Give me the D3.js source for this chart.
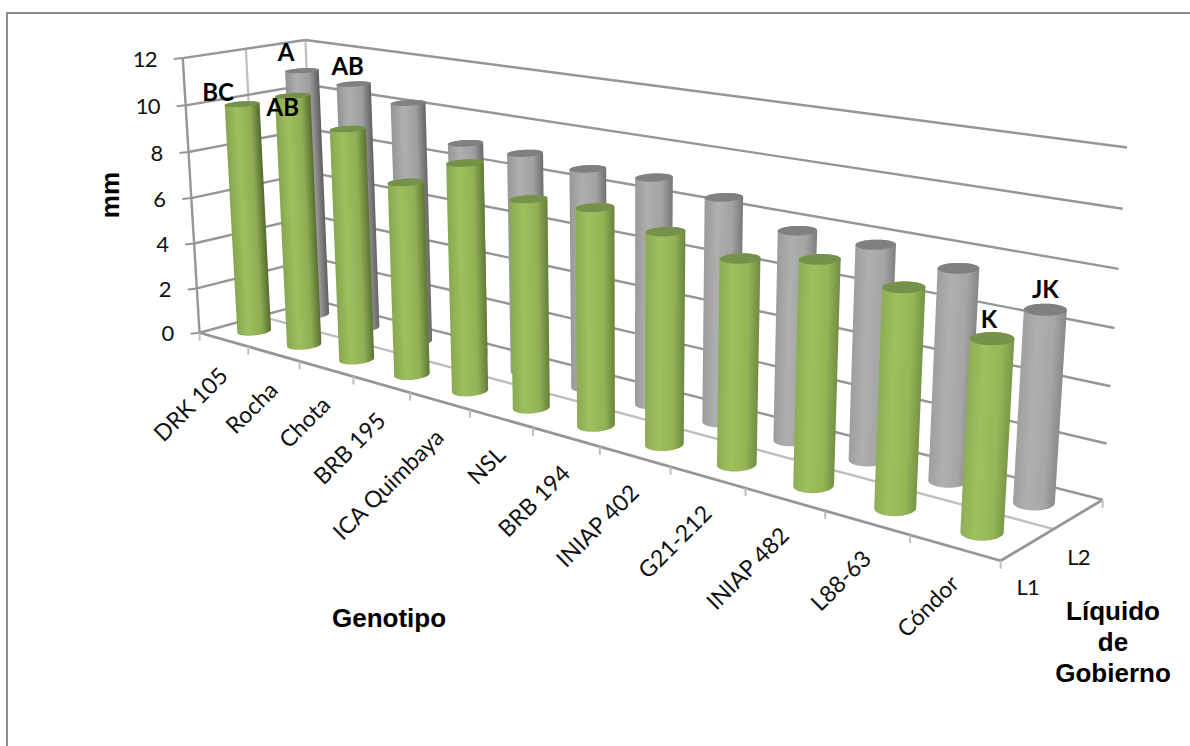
<!DOCTYPE html>
<html lang="es">
<head>
<meta charset="utf-8">
<title>Genotipo y líquido de gobierno</title>
<script src="https://cdn.jsdelivr.net/npm/d3@7"></script>
<style>
  html, body { margin: 0; padding: 0; background: #fff; }
  svg { display: block; }
  .tick-label { font-family: Lato, sans-serif; font-size: 22px; letter-spacing: -0.8px; fill: #111; }
  .cat-label { font-family: Lato, sans-serif; font-size: 23px; fill: #111; }
  .bar-letter { font-family: Lato, sans-serif; font-size: 24px; font-weight: 700; fill: #000; text-anchor: middle; }
  .axis-title { font-family: "Liberation Sans", Arial, sans-serif; font-size: 26px; font-weight: 700; fill: #000; text-anchor: middle; }
</style>
</head>
<body>
<svg id="chart" width="1190" height="746"></svg>
<script>
// Chart content
const genotipos = ["DRK 105", "Rocha", "Chota", "BRB 195", "ICA Quimbaya", "NSL", "BRB 194", "INIAP 402", "G21-212", "INIAP 482", "L88-63", "Cóndor"];
const liquidos = ["L1", "L2"];
const valoresL1 = [10, 10.7, 9.7, 7.95, 9.15, 8.2, 8.35, 7.95, 7.5, 8, 7.6, 6.5];
const valoresL2 = [11, 10.75, 10.3, 9, 9, 8.8, 8.9, 8.6, 7.85, 7.85, 7.55, 6.7];
const yTicks = [0, 2, 4, 6, 8, 10, 12];
const letrasL1 = ["BC", "AB", "", "", "", "", "", "", "", "", "", "K"];
const letrasL2 = ["A", "AB", "", "", "", "", "", "", "", "", "", "JK"];

// Data space to unit cube: x along genotypes, y up, z into the page
const xBand = d3.scaleBand().domain(genotipos).range([0, 1]);
const zBand = d3.scaleBand().domain(liquidos).range([0, 1]);
const yScale = d3.scaleLinear().domain([0, 12]).range([0, 1]);

// Screen positions of known points of the box, used to calibrate the camera
const frameAnchors = [
  [0, 0, 0, 200, 332], [0, 1, 0, 182, 58], [1, 0, 0, 1000, 558],
  [1, 0, 1, 1102, 499], [1, 1, 1, 1127, 148], [0, 1, 1, 305, 41], [0, 0, 1, 317, 300],
  ...[248, 299, 353, 410, 470, 533, 600, 671, 746, 825, 910].map((u, i) =>
    [(i + 1) / 12, 0, 0, u, [347, 362, 378, 393, 410, 428, 447, 467, 488, 511, 537][i]]),
  ...[[105, 186], [152, 189], [198, 192], [243, 194], [287, 197]].map(([v, u], i) => [0, (10 - 2 * i) / 12, 0, u, v]),
  ...[[208, 1123], [268, 1118], [328, 1115], [387, 1111], [444, 1107]].map(([v, u], i) => [1, (10 - 2 * i) / 12, 1, u, v])
];

// Least-squares fit of a 3x4 projective camera
function fitCamera(points) {
  const n = 11, A = d3.range(n).map(() => new Array(n + 1).fill(0));
  const add = (row, rhs) => {
    for (let i = 0; i < n; i++) {
      for (let j = 0; j < n; j++) A[i][j] += row[i] * row[j];
      A[i][n] += row[i] * rhs;
    }
  };
  for (const [X, Y, Z, u, v] of points) {
    add([X, Y, Z, 1, 0, 0, 0, 0, -u * X, -u * Y, -u * Z], u);
    add([0, 0, 0, 0, X, Y, Z, 1, -v * X, -v * Y, -v * Z], v);
  }
  for (let c = 0; c < n; c++) {
    let piv = c;
    for (let r = c + 1; r < n; r++) if (Math.abs(A[r][c]) > Math.abs(A[piv][c])) piv = r;
    [A[c], A[piv]] = [A[piv], A[c]];
    for (let r = 0; r < n; r++) {
      if (r === c) continue;
      const f = A[r][c] / A[c][c];
      for (let k = c; k <= n; k++) A[r][k] -= f * A[c][k];
    }
  }
  return A.map((row, i) => row[n] / row[i]);
}
const cam = fitCamera(frameAnchors);
function project(x, y, z) {
  const w = cam[8] * x + cam[9] * y + cam[10] * z + 1;
  return [(cam[0] * x + cam[1] * y + cam[2] * z + cam[3]) / w,
          (cam[4] * x + cam[5] * y + cam[6] * z + cam[7]) / w];
}

const svg = d3.select("#chart");
const defs = svg.append("defs");

const segment = (a, b, stroke, width) => svg.append("line")
  .attr("x1", a[0]).attr("y1", a[1]).attr("x2", b[0]).attr("y2", b[1])
  .attr("stroke", stroke).attr("stroke-width", width);

// Chart area frame: only the top and left rules are on the page
segment([7, 13], [1190, 13], "#8c8c8c", 2);
segment([7, 12], [7, 746], "#8c8c8c", 2);

// Walls: value gridlines on the side and back planes
const gridDark = "#969696", gridLight = "#bfbfbf";
segment(project(0, 0, .5), project(0, 1, .5), gridLight, 2.2);
segment(project(0, 0, 1), project(0, 1, 1), gridLight, 2.2);
for (const t of yTicks) {
  const v = yScale(t);
  segment(project(0, v, 0), project(0, v, 1), gridDark, 2.4);
  segment(project(0, v, 1), project(1, v, 1), gridDark, 2.4);
  const p = project(0, v, 0);
  segment(p, [p[0] - 9, p[1] + 1], gridDark, 2);
}
// Vertical axis
segment(project(0, 0, 0), project(0, 1, 0), gridDark, 2.4);
// Floor
segment(project(0, 0, .5), project(1, 0, .5), gridLight, 2.4);
segment(project(0, 0, 0), project(1, 0, 0), gridDark, 2.8);
segment(project(1, 0, 0), project(1, 0, 1), gridDark, 2.8);
d3.range(13).forEach(i => {
  const p = project(i / 12, 0, 0);
  segment(p, [p[0], p[1] + 8], gridLight, 2);
});
{
  const p = project(1, 0, 1);
  segment(p, [p[0], p[1] + 8], gridLight, 2);
}

// Cylinders
const rx = 0.0166, rz = 0.114;
const ring = (i, y, z) => {
  const cx = xBand(genotipos[i]) + xBand.bandwidth() / 2;
  return d3.range(0, 72).map(k => {
    const a = k / 72 * 2 * Math.PI;
    return project(cx + rx * Math.cos(a), y, z + rz * Math.sin(a));
  });
};
const pts = a => a.map(p => p.join(",")).join(" ");

const palettes = {
  L1: { edge0: "#86a650", edge1: "#8fae55", mid: "#9fc05e", far0: "#55692f", far1: "#7a9846", top: "#76924a" },
  L2: { edge0: "#939393", edge1: "#a0a0a0", mid: "#afafaf", far0: "#5e5e5e", far1: "#8a8a8a", top: "#808080" }
};

function drawBar(series, values, i) {
  const pal = palettes[series];
  const z = zBand(series) + zBand.bandwidth() / 2;
  const v = yScale(values[i]);
  const base = ring(i, 0, z), top = ring(i, v, z);
  const hull = d3.polygonHull(base.concat(top));
  const t = i / (genotipos.length - 1);
  const low = d3.extent(base, p => p[0]), high = d3.extent(top, p => p[0]);
  const midY = (d3.mean(base, p => p[1]) + d3.mean(top, p => p[1])) / 2;
  const x0 = (low[0] + high[0]) / 2, x1 = (low[1] + high[1]) / 2;
  // Shading runs across the cylinder, square to its leaning axis
  const ax = d3.mean(top, p => p[0]) - d3.mean(base, p => p[0]);
  const ay = d3.mean(top, p => p[1]) - d3.mean(base, p => p[1]);
  const len = Math.hypot(ax, ay), nx = -ay / len, ny = ax / len;
  const half = (x1 - x0) / 2, mx = (x0 + x1) / 2;
  const id = `g-${series}-${i}`;
  const grad = defs.append("linearGradient").attr("id", id).attr("gradientUnits", "userSpaceOnUse")
    .attr("x1", mx - nx * half).attr("y1", midY - ny * half)
    .attr("x2", mx + nx * half).attr("y2", midY + ny * half);
  const edge = d3.interpolateRgb(pal.edge0, pal.edge1)(t);
  const far = d3.interpolateRgb(pal.far0, pal.far1)(t);
  [[0, edge], [.34, pal.mid], [.72, d3.interpolateRgb(pal.mid, far)(.22)], [1, far]].forEach(([o, c]) =>
    grad.append("stop").attr("offset", o).attr("stop-color", c));
  svg.append("polygon").attr("points", pts(hull)).attr("fill", `url(#${id})`);
  svg.append("polygon").attr("points", pts(top)).attr("fill", pal.top);
}
genotipos.forEach((_, i) => drawBar("L2", valoresL2, i));
genotipos.forEach((_, i) => drawBar("L1", valoresL1, i));

// Value axis labels
yTicks.forEach(t => {
  const p = project(0, yScale(t), 0);
  svg.append("text").attr("class", "tick-label").attr("x", p[0] - 26).attr("y", p[1] + 1)
    .attr("dy", ".35em").attr("text-anchor", "end").text(t);
});

// Genotype labels, slanted along the front edge
genotipos.forEach((g, i) => {
  const p = project(xBand(g) + xBand.bandwidth() / 2, 0, 0);
  svg.append("text").attr("class", "cat-label").attr("text-anchor", "end")
    .attr("transform", `translate(${p[0]},${p[1] + 32}) rotate(-45)`)
    .attr("dy", ".35em").text(g);
});

// Depth labels
liquidos.forEach(l => {
  const p = project(1, 0, zBand(l) + zBand.bandwidth() / 2);
  svg.append("text").attr("class", "tick-label").attr("x", p[0]).attr("y", p[1] + 43)
    .attr("dy", ".35em").attr("text-anchor", "middle").text(l);
});

// Significance letters above selected bars
const letterOffsets = { L1: { 0: [-24, -11], 1: [-10, 12], 11: [-3, -19] }, L2: { 0: [-16, -18], 1: [-6, -17], 11: [0, -20] } };
[["L1", valoresL1, letrasL1], ["L2", valoresL2, letrasL2]].forEach(([s, vals, letras]) => {
  const z = zBand(s) + zBand.bandwidth() / 2;
  letras.forEach((txt, i) => {
    if (!txt) return;
    const p = project(xBand(genotipos[i]) + xBand.bandwidth() / 2, yScale(vals[i]), z);
    const [dx, dy] = letterOffsets[s][i];
    svg.append("text").attr("class", "bar-letter").attr("x", p[0] + dx).attr("y", p[1] + dy)
      .attr("dy", ".35em").text(txt);
  });
});

// Axis titles
svg.append("text").attr("class", "axis-title").attr("transform", "translate(110,195) rotate(-90)").attr("dy", ".35em").text("mm");
svg.append("text").attr("class", "axis-title").attr("x", 389).attr("y", 618).attr("dy", ".35em").text("Genotipo");
["Líquido", "de", "Gobierno"].forEach((line, i) => {
  svg.append("text").attr("class", "axis-title").attr("x", 1113).attr("y", 611 + i * 31).attr("dy", ".35em").text(line);
});
</script>
</body>
</html>
